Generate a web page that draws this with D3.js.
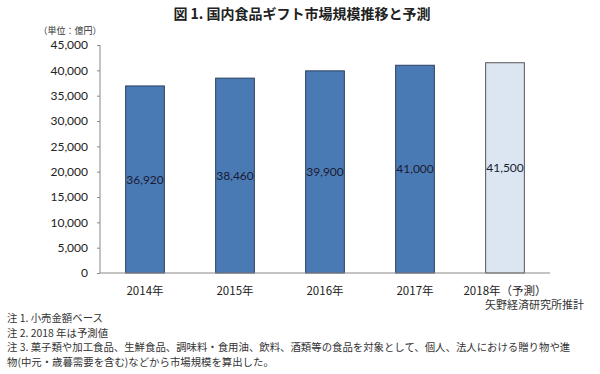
<!DOCTYPE html>
<html>
<head>
<meta charset="utf-8">
<script src="https://cdn.jsdelivr.net/npm/d3@7"></script>
<style>
  body { margin: 0; background: #fff; }
  svg { display: block; }
</style>
</head>
<body>
<svg id="drawing_region"></svg>
<script>
const years = ["2014年", "2015年", "2016年", "2017年", "2018年（予測）"];
const values = [36920, 38460, 39900, 41000, 41500];
const forecast = [false, false, false, false, true];
const yTicks = [0, 5000, 10000, 15000, 20000, 25000, 30000, 35000, 40000, 45000];
const notes = [
    "注 1. 小売金額ベース",
    "注 2. 2018 年は予測値",
    "注 3. 菓子類や加工食品、生鮮食品、調味料・食用油、飲料、酒類等の食品を対象として、個人、法人における贈り物や進",
    "物(中元・歳暮需要を含む)などから市場規模を算出した。"
];

const data = years.map((y, i) => ({ year: y, value: values[i], forecast: forecast[i] }));

const config = {
    width: 600,
    height: 374,
    margin: { top: 45, right: 50, bottom: 101, left: 100 }
};

const svg = d3.select('#drawing_region')
    .attr('width', config.width)
    .attr('height', config.height);

const innerW = config.width - config.margin.left - config.margin.right;
const innerH = config.height - config.margin.top - config.margin.bottom;

const chart = svg.append('g')
    .attr('transform', `translate(${config.margin.left}, ${config.margin.top})`);

const x = d3.scaleBand()
    .domain(years)
    .range([0, innerW])
    .paddingInner(0.57)
    .paddingOuter(0.285);

const y = d3.scaleLinear()
    .domain([0, 45000])
    .range([innerH, 0]);

const sans = "'Noto Sans CJK JP', 'Noto Sans', sans-serif";

// title
svg.append('text')
    .attr('x', 302)
    .attr('y', 19)
    .attr('text-anchor', 'middle')
    .attr('font-family', sans)
    .attr('font-size', '14px')
    .attr('font-weight', 'bold')
    .attr('fill', '#222')
    .text('図 1. 国内食品ギフト市場規模推移と予測');

// unit
svg.append('text')
    .attr('x', 70)
    .attr('y', 34)
    .attr('text-anchor', 'middle')
    .attr('font-family', sans)
    .attr('font-size', '9px')
    .attr('fill', '#333')
    .text('（単位：億円）');

// y axis
const yAxis = chart.append('g')
    .call(d3.axisLeft(y).tickValues(yTicks).tickSize(3).tickPadding(9)
        .tickFormat(d3.format(',')));
yAxis.select('.domain').attr('stroke', '#888').attr('d', `M0,0V${innerH}`);
yAxis.selectAll('.tick line').attr('stroke', '#888');
yAxis.selectAll('.tick text')
    .attr('font-family', "Lato, 'Noto Sans', sans-serif")
    .attr('font-size', '12px')
    .attr('fill', '#222');

// bars
chart.selectAll('rect.bar')
    .data(data)
    .enter()
    .append('rect')
    .attr('class', 'bar')
    .attr('x', d => x(d.year))
    .attr('y', d => y(d.value))
    .attr('width', x.bandwidth())
    .attr('height', d => innerH - y(d.value))
    .attr('fill', d => d.forecast ? '#dce6f2' : '#4a7ab4')
    .attr('stroke', d => d.forecast ? '#555' : '#2a3f5f')
    .attr('stroke-width', 1);

// x axis baseline
chart.append('line')
    .attr('x1', 0).attr('x2', innerW)
    .attr('y1', innerH).attr('y2', innerH)
    .attr('stroke', '#888');

// value labels
chart.selectAll('text.val')
    .data(data)
    .enter()
    .append('text')
    .attr('class', 'val')
    .attr('x', d => x(d.year) + x.bandwidth() / 2)
    .attr('y', d => (y(d.value) + innerH) / 2)
    .attr('dy', '0.35em')
    .attr('text-anchor', 'middle')
    .attr('font-family', "Lato, 'Noto Sans', sans-serif")
    .attr('font-size', '12px')
    .attr('fill', '#1a1a33')
    .text(d => d3.format(',')(d.value));

// category labels
chart.selectAll('text.cat')
    .data(data)
    .enter()
    .append('text')
    .attr('class', 'cat')
    .attr('x', d => x(d.year) + x.bandwidth() / 2)
    .attr('y', innerH + 22)
    .attr('text-anchor', 'middle')
    .attr('font-family', sans)
    .attr('font-size', '11.5px')
    .attr('fill', '#222')
    .text(d => d.year);

// source
svg.append('text')
    .attr('x', 584)
    .attr('y', 309)
    .attr('text-anchor', 'end')
    .attr('font-family', sans)
    .attr('font-size', '11px')
    .attr('fill', '#333')
    .text('矢野経済研究所推計');

// notes
svg.selectAll('text.note')
    .data(notes)
    .enter()
    .append('text')
    .attr('class', 'note')
    .attr('x', 7)
    .attr('y', (d, i) => 322 + i * 14.5)
    .attr('font-family', sans)
    .attr('font-size', '10.4px')
    .attr('fill', '#333')
    .text(d => d);
</script>
</body>
</html>
